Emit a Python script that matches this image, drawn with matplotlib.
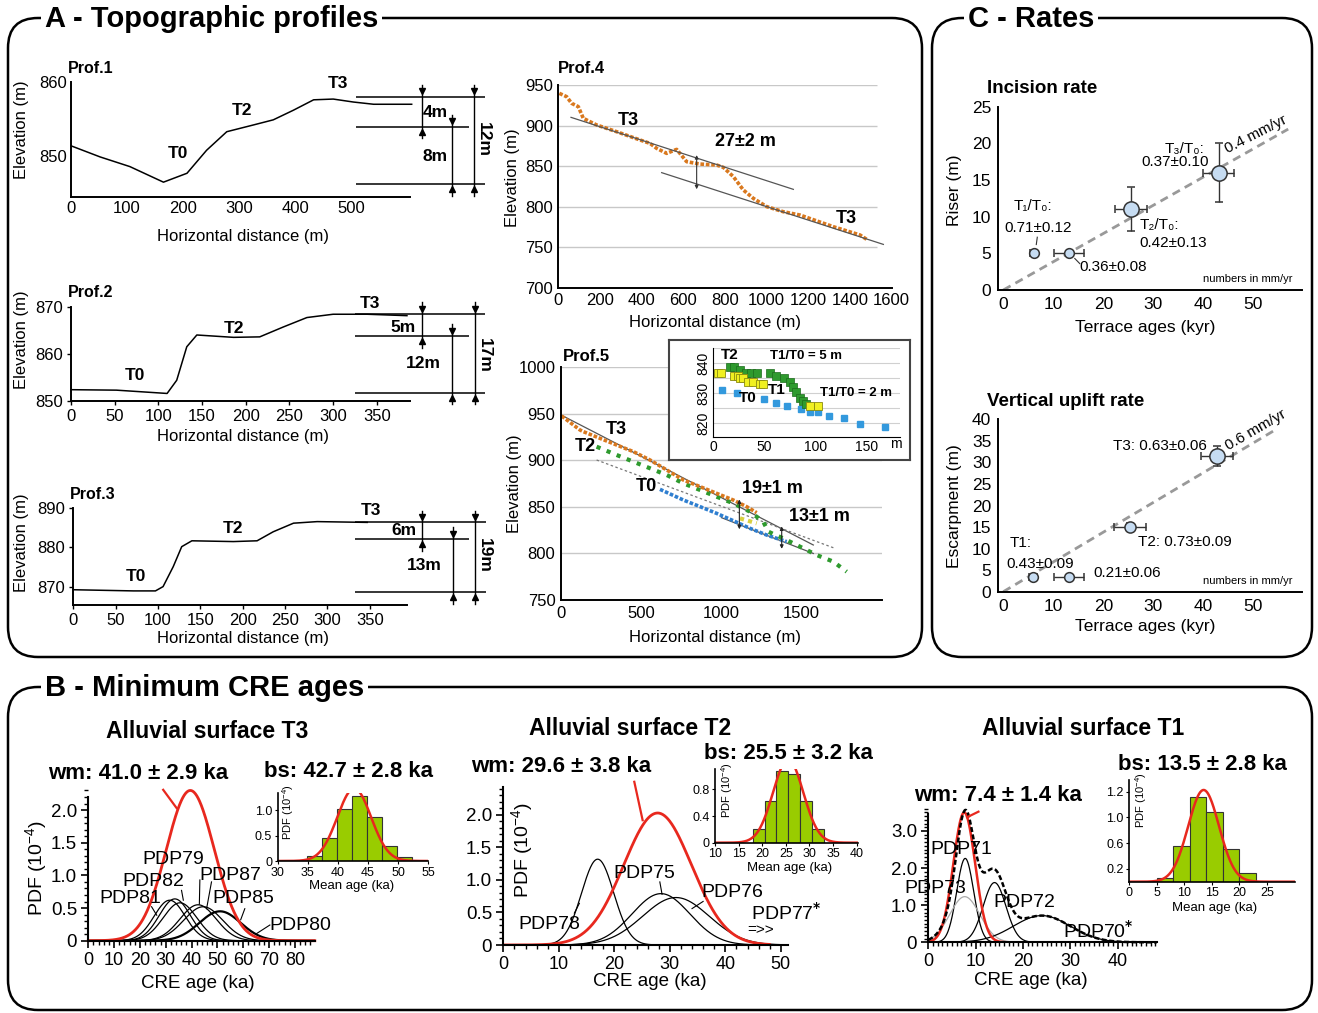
import numpy as np
import matplotlib.pyplot as plt
from matplotlib.patches import FancyBboxPatch
from matplotlib.ticker import MultipleLocator

plt.rcParams['font.family'] = ['Liberation Sans', 'DejaVu Sans']
plt.rcParams['font.size'] = 11
plt.rcParams['mathtext.default'] = 'regular'

# ---------------- data ----------------
# A - topographic profiles (distance m, elevation m)
p1_x = [0, 52, 105, 165, 207, 242, 278, 325, 361, 397, 433, 468, 504, 540, 608]
p1_y = [851.4, 849.9, 848.6, 846.5, 847.7, 850.8, 853.3, 854.2, 854.9, 856.2, 857.6, 857.7, 857.3, 857.0, 857.0]
p1_levels = [858.0, 854.0, 846.3]

p2_x = [0, 52, 110, 121, 132.5, 144, 186, 216, 243, 270, 300, 339, 384.5]
p2_y = [852.4, 852.3, 851.6, 854.4, 861.5, 864.0, 863.5, 863.6, 865.7, 867.7, 868.4, 868.4, 868.1]
p2_levels = [868.4, 863.8, 851.8]

p3_x = [0, 71, 97, 106, 118, 128, 140, 189, 217, 236, 260, 288, 347]
p3_y = [869.2, 868.9, 868.9, 870.0, 875.1, 880.2, 881.7, 881.5, 881.7, 884.0, 886.2, 886.6, 886.4]
p3_levels = [886.4, 882.2, 868.6]

p4_x = [5, 40, 64, 96, 120, 184, 280, 392, 440, 472, 520, 568, 616, 680, 760, 792, 840, 888, 936,
        1000, 1080, 1160, 1320, 1448, 1480]
p4_y = [939.7, 935.6, 927.4, 923.3, 908.9, 900.7, 892.4, 882.2, 878.0, 871.9, 865.7, 870.6, 855.4,
        852.5, 851.3, 848.4, 837.0, 820.5, 810.2, 800.0, 793.7, 789.6, 775.2, 765.0, 759.6]

p5_t3_x = [4, 118, 139, 243, 347, 451, 555, 659, 763, 867, 970, 1074, 1157, 1220]
p5_t3_y = [947.7, 932.7, 930.9, 923.7, 916.5, 909.4, 900.4, 889.7, 878.9, 871.8, 864.6, 857.4, 850.3, 843.8]
p5_t2_x = [222, 347, 451, 555, 659, 763, 867, 970, 1074, 1178, 1261, 1293, 1324, 1386, 1490, 1594, 1698, 1781]
p5_t2_y = [914.7, 905.8, 898.6, 891.5, 884.3, 875.3, 868.2, 861.0, 853.9, 844.9, 834.1, 823.4, 820.9,
           816.2, 807.3, 798.3, 791.2, 780.4]
p5_t1_x = [1116, 1220]
p5_t1_y = [837.7, 832.4]
p5_t0_x = [617, 763, 867, 970, 1074, 1178, 1282, 1407]
p5_t0_y = [868.9, 857.4, 850.3, 843.1, 835.2, 827.0, 819.8, 812.7]

# Prof.5 inset (distance m, elevation m)
in_t1_x = [4.9, 8.2, 21, 24.5, 26, 29, 34, 39, 45.6, 49, 94.6, 102.7]
in_t1_y = [836.7, 836.7, 835.8, 835.8, 835, 835, 833.9, 833.9, 833.1, 833.1, 825.8, 825.8]
in_t2_x = [16.3, 21, 26, 32.6, 37.5, 43, 55.4, 61.3, 69, 75, 78.3, 80.9, 84.8, 88, 90.6]
in_t2_y = [838.9, 838.9, 837.8, 836.9, 836.9, 836.9, 836.7, 835.8, 835, 833.9, 832.2, 830.3, 828.3, 827.4, 826.4]
in_t0_x = [9.1, 23.5, 49.6, 61.3, 72.4, 86.4, 94.6, 102.7, 114, 127.8, 143.5, 168]
in_t0_y = [831.1, 830, 828, 826.9, 825.8, 824.7, 823.9, 823.9, 822.4, 821.7, 819.7, 818.6]

# C - rates
inc_age = [6.1, 13.1, 25.5, 43.1]
inc_age_err = [0.7, 3.0, 3.2, 3.1]
inc_riser = [5, 5, 11, 16]
inc_riser_err = [0, 0, 3, 4]
inc_size = [7, 7, 11, 11]
inc_rate = 0.385

up_age = [6.0, 13.1, 25.3, 42.8]
up_age_err = [0.8, 3.0, 3.2, 3.2]
up_escarp = [3.5, 3.5, 15, 31.5]
up_escarp_err = [0, 0, 1, 2.3]
up_size = [7, 7, 8, 11]
up_rate = 0.69

# B - CRE ages: individual PDPs (mean ka, sigma ka, peak 1e-4)
t3_names = ['PDP81', 'PDP82', 'PDP79', 'PDP87', 'PDP85', 'PDP80']
t3_mean = [31.5, 33.5, 35.5, 42.5, 44.5, 51.0]
t3_sig = [6.0, 6.0, 6.5, 7.0, 7.5, 8.0]
t3_peak = [0.62, 0.64, 0.58, 0.55, 0.52, 0.45]
t3_wm = (39.5, 9.3, 2.3)
t3_bins = [34.8, 37.3, 39.8, 42.3, 44.8, 47.3, 49.8, 52.3]
t3_hist = [0.10, 0.46, 1.03, 1.28, 0.86, 0.29, 0.07]
t3_bs = (42.7, 2.8)

t2_names = ['PDP78', 'PDP75', 'PDP76']
t2_mean = [17.0, 28.4, 31.1]
t2_sig = [2.9, 5.2, 6.0]
t2_peak = [1.32, 0.79, 0.73]
t2_wm = (27.8, 6.1, 2.03)
t2_bins = [18, 20.5, 23, 25.5, 28, 30.5, 33]
t2_hist = [0.20, 0.62, 1.08, 1.03, 0.62, 0.20]
t2_bs = (25.5, 3.2)

t1_names = ['PDP71', 'PDP73', 'PDP72', 'PDP70']
t1_mean = [7.8, 7.7, 14.0, 24.0]
t1_sig = [1.8, 3.2, 2.4, 6.0]
t1_peak = [2.26, 1.23, 1.61, 0.72]
t1_wm = (7.6, 2.3, 3.5)
t1_bins = [5, 8, 11, 14, 17, 20, 23]
t1_hist = [0.05, 0.55, 1.32, 1.08, 0.51, 0.13]
t1_bs = (13.5, 2.8)

RED = '#e8281e'
ORANGE = '#d9781e'
GREEN = '#2e9a2e'
BLUE = '#2f7fd0'
BAR = '#99cc00'

W, H = 1318, 1013
fig = plt.figure(figsize=(W / 100, H / 100), dpi=100)
fig.patch.set_facecolor('white')

# background axes in pixel coordinates for frames and free text
bg = fig.add_axes([0, 0, 1, 1], zorder=-10)
bg.set_xlim(0, W)
bg.set_ylim(H, 0)
bg.axis('off')


def add_ax(x0, x1, y0, y1, xlim, ylim, z=1):
    ax = fig.add_axes([x0 / W, 1 - y1 / H, (x1 - x0) / W, (y1 - y0) / H], zorder=z)
    ax.set_xlim(*xlim)
    ax.set_ylim(*ylim)
    ax.patch.set_alpha(0)
    for s in ('top', 'right'):
        ax.spines[s].set_visible(False)
    return ax


def ptext(x, y, s, size=11, bold=False, **kw):
    kw.setdefault('ha', 'center')
    kw.setdefault('va', 'center')
    bg.text(x, y, s, fontsize=size, fontweight='bold' if bold else 'normal', **kw)


def btext(ax, x, y, s, size=12, **kw):
    kw.setdefault('ha', 'center')
    kw.setdefault('va', 'center')
    ax.text(x, y, s, fontsize=size, fontweight='bold', clip_on=False, **kw)


def gauss(x, m, s, p):
    return p * np.exp(-0.5 * ((x - m) / s) ** 2)


# panel frames
for (x0, y0, x1, y1, title, tx) in [(8, 18, 922, 657, 'A - Topographic profiles', 45),
                                     (932, 18, 1312, 657, 'C - Rates', 968),
                                     (8, 687, 1312, 1010, 'B - Minimum CRE ages', 45)]:
    bg.add_patch(FancyBboxPatch((x0, y0), x1 - x0, y1 - y0,
                                boxstyle='round,pad=0,rounding_size=30',
                                fc='none', ec='black', lw=1.8))
    bg.text(tx, y0 + 1, title, fontsize=21, fontweight='bold', ha='left', va='center',
            bbox=dict(fc='white', ec='none', pad=3))


# ---------------- A: small profiles ----------------
def dim_arrow(ax, x, ytop, ybot, ext):
    ax.plot([x, x], [ytop + ext, ybot - ext], color='black', lw=1, clip_on=False)
    ax.plot([x], [ytop + ext * 0.45], marker='v', ms=4.5, color='black', clip_on=False)
    ax.plot([x], [ybot - ext * 0.45], marker='^', ms=4.5, color='black', clip_on=False)


def small_prof(box, xlim, ylim, xs, ys, levels, line_x, arr_x, ext, xticks, yticks,
               tlabels, dlabels, name, ylab_y, xlab_y, ticklen):
    ax = add_ax(*box, xlim, ylim)
    ax.plot(xs, ys, color='black', lw=1.1, clip_on=False)
    ax.hlines(levels, line_x[0], [line_x[1], line_x[2], line_x[1]], color='black', lw=1.1, clip_on=False)
    dim_arrow(ax, arr_x[0], levels[0], levels[1], ext)
    dim_arrow(ax, arr_x[1], levels[1], levels[2], ext)
    dim_arrow(ax, arr_x[2], levels[0], levels[2], ext)
    for (x, y, s) in tlabels:
        btext(ax, x, y, s, 12.5)
    for (x, y, s, r) in dlabels:
        btext(ax, x, y, s, 12.5, rotation=r)
    ax.set_xticks(xticks)
    ax.set_yticks(yticks)
    ax.tick_params(length=ticklen, width=1, labelsize=12, pad=3)
    for s in ('left', 'bottom'):
        ax.spines[s].set_linewidth(1.4)
    ptext(box[0] - 3, box[2] - 14, name, 11.5, True, ha='left')
    ptext(22, ylab_y, 'Elevation (m)', 12, rotation=90)
    ptext(243, xlab_y, 'Horizontal distance (m)', 12)
    return ax


small_prof((71, 410, 82, 197), (0, 605), (844.5, 860), p1_x, p1_y, p1_levels,
           (509, 739, 710), (627, 680, 720), 1.6, range(0, 501, 100), [850, 860],
           [(190, 850.3, 'T0'), (306, 856.1, 'T2'), (477, 859.8, 'T3')],
           [(650, 855.9, '4m', 0), (650, 850.0, '8m', 0), (736, 852.2, '12m', -90)],
           'Prof.1', 130, 236, 0)
small_prof((71, 410, 306.7, 401), (0, 388), (850, 870), p2_x, p2_y, p2_levels,
           (325, 474, 455), (402, 436, 462), 2.5, range(0, 351, 50), [850, 860, 870],
           [(73, 855.5, 'T0'), (186, 865.4, 'T2'), (342, 870.7, 'T3')],
           [(380, 865.6, '5m', 0), (403, 858.0, '12m', 0), (473, 859.7, '17m', -90)],
           'Prof.2', 340, 436, 3)
small_prof((73.3, 407, 508.3, 605), (0, 394), (865.3, 890), p3_x, p3_y, p3_levels,
           (333, 487, 467), (412, 448, 474), 3.0, range(0, 351, 50), [870, 880, 890],
           [(74, 872.6, 'T0'), (189, 884.9, 'T2'), (351, 889.4, 'T3')],
           [(390, 884.3, '6m', 0), (414, 875.5, '13m', 0), (485, 878.0, '19m', -90)],
           'Prof.3', 543, 638, 3)

# ---------------- A: Prof.4 ----------------
ax4 = add_ax(558.3, 891.7, 85, 287.7, (0, 1600), (700, 950))
ax4.hlines([750, 800, 850, 900, 950], 0, 1530, color='#c8c8c8', lw=1, zorder=0)
ax4.plot(p4_x, p4_y, color=ORANGE, ls=(0, (1, 0.5)), lw=2.6)
ax4.plot([61, 1128], [910.1, 821.3], color='#555555', lw=0.9)
ax4.plot([496, 1560], [841.9, 753.4], color='#555555', lw=0.9)
ax4.annotate('', xy=(664, 818), xytext=(664, 867),
             arrowprops=dict(arrowstyle='<|-|>', lw=0.8, color='#333333', mutation_scale=5))
btext(ax4, 336, 906.8, 'T3', 13)
btext(ax4, 896, 880, '27±2 m', 13)
btext(ax4, 1384, 785.5, 'T3', 13)
ax4.set_xticks(range(0, 1601, 200))
ax4.set_yticks(range(700, 951, 50))
ax4.tick_params(length=0, labelsize=12, pad=4)
for s in ('left', 'bottom'):
    ax4.spines[s].set_linewidth(1.4)
ptext(558, 68, 'Prof.4', 12, True, ha='left')
ptext(513, 178, 'Elevation (m)', 12, rotation=90)
ptext(715, 322, 'Horizontal distance (m)', 12)

# ---------------- A: Prof.5 ----------------
ax5 = add_ax(561, 881.8, 367.3, 600, (0, 2000), (750, 1000))
ax5.hlines([800, 850, 900, 950, 1000], 0, 2000, color='#c8c8c8', lw=1, zorder=0)
ax5.plot([0, 1573], [948.8, 809.1], color='#555555', lw=0.9)
ax5.plot([222, 1708], [900.4, 805.5], color='#777777', lw=0.9, ls=(0, (2, 2)))
ax5.plot([1000, 1573], [838.5, 800.0], color='#555555', lw=0.9)
ax5.plot(p5_t0_x, p5_t0_y, color=BLUE, ls=(0, (1, 0.5)), lw=2.6)
ax5.plot(p5_t2_x, p5_t2_y, color=GREEN, ls=(0, (1, 1.6)), lw=3)
ax5.plot(p5_t1_x, p5_t1_y, color='#d8d040', ls=(0, (1, 1)), lw=3)
ax5.plot(p5_t3_x, p5_t3_y, color=ORANGE, ls=(0, (1, 0.5)), lw=2.6)
for (x, y0, y1) in [(1112, 823, 861), (1376, 802, 832)]:
    ax5.annotate('', xy=(x, y0), xytext=(x, y1),
                 arrowprops=dict(arrowstyle='<|-|>', lw=0.8, color='#222222', mutation_scale=5))
btext(ax5, 347, 933.4, 'T3', 13)
btext(ax5, 150, 914.7, 'T2', 13)
btext(ax5, 534, 871.8, 'T0', 13)
btext(ax5, 1320, 870, '19±1 m', 13)
btext(ax5, 1610, 840, '13±1 m', 13)
ax5.set_xticks([0, 500, 1000, 1500])
ax5.set_yticks(range(750, 1001, 50))
ax5.tick_params(length=0, labelsize=12, pad=4)
for s in ('left', 'bottom'):
    ax5.spines[s].set_linewidth(1.4)
ptext(563, 356, 'Prof.5', 12, True, ha='left')
ptext(515, 484, 'Elevation (m)', 12, rotation=90)
ptext(715, 637, 'Horizontal distance (m)', 12)

# inset of Prof.5
fr = fig.add_axes([669 / W, 1 - 460 / H, 241 / W, 120 / H], zorder=2)
fr.set_xticks([])
fr.set_yticks([])
fr.set_facecolor('white')
for s in fr.spines.values():
    s.set_color('#444444')
    s.set_linewidth(1.5)
axi = add_ax(713, 900, 348.3, 437.3, (0, 183), (815.3, 845), z=3)
axi.hlines([820, 825, 830, 835, 840, 845], 0, 183, color='#d0d0d0', lw=0.8, zorder=0)
axi.plot(in_t0_x, in_t0_y, ls='none', marker='s', ms=4.5, color='#3399dd')
axi.plot(in_t2_x, in_t2_y, ls='none', marker='s', ms=5.5, mfc='#2e9a2e', mec='#1c6b1c', mew=0.5)
axi.plot(in_t1_x, in_t1_y, ls='none', marker='s', ms=5.5, mfc='#f0f020', mec='#8a8a10', mew=0.6)
btext(axi, 16.3, 842.8, 'T2', 11)
btext(axi, 91, 842.4, 'T1/T0 = 5 m', 9.5)
btext(axi, 34, 828.3, 'T0', 11)
btext(axi, 62, 831.1, 'T1', 11)
btext(axi, 140, 830, 'T1/T0 = 2 m', 9.5)
axi.set_xticks([0, 50, 100, 150])
axi.set_yticks([820, 830, 840])
axi.set_yticklabels(['820', '830', '840'], rotation=90, va='center')
axi.tick_params(length=0, labelsize=10, pad=2)
axi.text(179, 815.3, 'm', fontsize=10, ha='center', va='top')
ptext(687, 392, 'Elevation (m)', 8.5, rotation=90)


# ---------------- C: rates ----------------
def rate_ax(box, ylim, ages, aerr, vals, verr, sizes, rate, xline, yticks):
    ax = add_ax(*box, (-1, 59.7), ylim)
    xr = np.array([0, xline])
    ax.plot(xr, rate * xr, color='#999999', lw=2, ls=(0, (3, 2)), zorder=1)
    for i in range(len(ages)):
        ax.errorbar(ages[i], vals[i], xerr=aerr[i], yerr=verr[i] if verr[i] > 0 else None,
                    fmt='o', ms=sizes[i], mfc='#c6dcf2', mec='#333333', mew=1.1,
                    ecolor='#333333', elinewidth=1, capsize=3, zorder=3)
    ax.set_xticks(range(0, 51, 10))
    ax.set_yticks(yticks)
    ax.tick_params(length=0, labelsize=12.5, pad=5)
    for s in ('left', 'bottom'):
        ax.spines[s].set_linewidth(1.4)
    ax.text(49, ylim[1] * 0.06, 'numbers in mm/yr', fontsize=8, ha='center', va='center')
    return ax


axc1 = rate_ax((998.3, 1301.7, 106.7, 290), (0, 25), inc_age, inc_age_err, inc_riser,
               inc_riser_err, inc_size, inc_rate, 57, range(0, 26, 5))
axc1.text(6, 11.4, 'T₁/T₀:', fontsize=11, ha='center', va='center')
axc1.text(7, 8.4, '0.71±0.12', fontsize=11, ha='center', va='center')
axc1.plot([6.8, 6.6], [7.2, 6.2], color='#333333', lw=0.8)
axc1.plot([14.3, 15.3], [4.3, 3.6], color='#333333', lw=0.8)
axc1.text(22, 3.2, '0.36±0.08', fontsize=11, ha='center', va='center')
axc1.text(27.2, 8.9, 'T₂/T₀:', fontsize=11, ha='left', va='center')
axc1.text(27.2, 6.4, '0.42±0.13', fontsize=11, ha='left', va='center')
axc1.text(36.3, 19.2, 'T₃/T₀:', fontsize=11, ha='center', va='center')
axc1.text(34.3, 17.5, '0.37±0.10', fontsize=11, ha='center', va='center')
axc1.text(50.5, 21.2, '0.4 mm/yr', fontsize=11, ha='center', va='center', rotation=27)
ptext(987, 88, 'Incision rate', 13.5, True, ha='left')
ptext(955, 190, 'Riser (m)', 12.5, rotation=90)
ptext(1145, 327, 'Terrace ages (kyr)', 12.5)

axc2 = rate_ax((998.3, 1301.7, 419.3, 591.7), (0, 40), up_age, up_age_err, up_escarp,
               up_escarp_err, up_size, up_rate, 54.5, range(0, 41, 5))
axc2.text(1.3, 11.2, 'T1:', fontsize=11, ha='left', va='center')
axc2.text(7.3, 6.4, '0.43±0.09', fontsize=11, ha='center', va='center')
axc2.text(24.7, 4.25, '0.21±0.06', fontsize=11, ha='center', va='center')
axc2.text(27.0, 11.6, 'T2: 0.73±0.09', fontsize=11, ha='left', va='center')
axc2.text(40.8, 33.8, 'T3: 0.63±0.06', fontsize=11, ha='right', va='center')
axc2.text(50.5, 37.6, '0.6 mm/yr', fontsize=11, ha='center', va='center', rotation=30)
ptext(987, 401, 'Vertical uplift rate', 13.5, True, ha='left')
ptext(955, 506, 'Escarpment (m)', 12.5, rotation=90)
ptext(1145, 626, 'Terrace ages (kyr)', 12.5)


# ---------------- B: CRE ages ----------------
def cre_main(box, xlim, ylim, ytop, xmaj, xmin, ymaj, ymin, ylabels=None):
    ax = add_ax(*box, xlim, ylim)
    ax.spines['left'].set_bounds(0, ytop)
    ax.set_xticks(xmaj)
    ax.set_yticks(ymaj)
    if ylabels is not None:
        ax.set_yticklabels(ylabels)
    ax.xaxis.set_minor_locator(MultipleLocator(xmin))
    ax.yaxis.set_minor_locator(MultipleLocator(ymin))
    ax.tick_params(which='major', length=5, width=1.2, labelsize=13.5, pad=3)
    ax.tick_params(axis='x', which='major', labelsize=13)
    ax.tick_params(which='minor', length=3, width=1)
    for s in ('left', 'bottom'):
        ax.spines[s].set_linewidth(1.5)
    return ax


def cre_inset(box, xlim, ylim, bins, hist, bs, xticks, yticks, ylabels=None):
    ax = add_ax(*box, xlim, ylim, z=2)
    ax.bar(bins[:-1], hist, width=np.diff(bins), align='edge', color=BAR,
           edgecolor='#333333', lw=0.8)
    xx = np.linspace(xlim[0], xlim[1], 300)
    ax.plot(xx, gauss(xx, bs[0], bs[1], 10 / (bs[1] * np.sqrt(2 * np.pi))), color=RED, lw=1.8)
    ax.set_xticks(xticks)
    ax.set_yticks(yticks)
    if ylabels is not None:
        ax.set_yticklabels(ylabels)
    ax.tick_params(length=2, labelsize=9, pad=2)
    for s in ('left', 'bottom'):
        ax.spines[s].set_linewidth(1.2)
    return ax


# T3
ax = cre_main((88.3, 314.8, 787.2, 940.7), (0, 87.7), (0, 2.35), 2.2, range(0, 81, 10), 2,
              [0, 0.5, 1.0, 1.5, 2.0], 0.1, ['0', '0.5', '1.0', '1.5', '2.0'])
xx = np.linspace(0, 87.7, 500)
for i in range(len(t3_names)):
    ax.plot(xx, gauss(xx, t3_mean[i], t3_sig[i], t3_peak[i]), color='black',
            lw=1.6 if t3_names[i] == 'PDP80' else 0.9)
ax.plot(xx, gauss(xx, *t3_wm), color=RED, lw=2, clip_on=False)
ax.plot([29, 34.2], [2.31, 2.03], color=RED, lw=1.6, clip_on=False)
for (x, y, s) in [(33, 1.24, 'PDP79'), (25.2, 0.91, 'PDP82'), (16.1, 0.64, 'PDP81'),
                  (54.8, 1.0, 'PDP87'), (60, 0.64, 'PDP85'), (82, 0.24, 'PDP80')]:
    ax.text(x, y, s, fontsize=14, ha='center', va='center')
for (x0, y0, x1, y1) in [(36.1, 0.77, 36.8, 0.62), (24.5, 0.52, 26.5, 0.39), (43.2, 0.93, 43.0, 0.56),
                         (47.7, 0.90, 45.8, 0.49), (60.6, 0.49, 59.0, 0.32), (70.3, 0.24, 65.2, 0.11)]:
    ax.plot([x0, x1], [y0, y1], color='black', lw=0.8)
ptext(36, 868, 'PDF (10$^{-4}$)', 14, rotation=90)
ptext(198, 983, 'CRE age (ka)', 13.5)
cre_inset((277.7, 428.3, 793.3, 861), (30, 55), (0, 1.33), t3_bins, t3_hist, t3_bs,
          range(30, 56, 5), [0, 0.5, 1.0], ['0', '0.5', '1.0'])
ptext(288, 812, 'PDF (10$^{-4}$)', 8, rotation=90)
ptext(352, 886, 'Mean age (ka)', 9.5)
ptext(207, 731, 'Alluvial surface T3', 16.5, True)
ptext(138, 773, 'wm: 41.0 ± 2.9 ka', 16, True)
ptext(348, 771, 'bs: 42.7 ± 2.8 ka', 16, True)

# T2
ax = cre_main((503.3, 787.5, 787, 945), (0, 51.2), (0, 2.43), 2.43, range(0, 51, 10), 2,
              [0, 0.5, 1.0, 1.5, 2.0], 0.1, ['0', '0.5', '1.0', '1.5', '2.0'])
xx = np.linspace(0, 51.2, 500)
for i in range(len(t2_names)):
    ax.plot(xx, gauss(xx, t2_mean[i], t2_sig[i], t2_peak[i]), color='black', lw=0.9)
ax.plot(xx[xx < 48], gauss(xx[xx < 48], *t2_wm), color=RED, lw=2)
ax.plot([23.6, 25.1], [2.51, 1.92], color=RED, lw=1.6, clip_on=False)
for (x, y, s) in [(8.3, 0.32, 'PDP78'), (25.4, 1.1, 'PDP75'), (41.3, 0.80, 'PDP76')]:
    ax.text(x, y, s, fontsize=14, ha='center', va='center')
ax.text(44.6, 0.49, r'PDP77$^{\mathbf{*}}$', fontsize=14, ha='left', va='center')
ax.text(46.4, 0.23, '=>>', fontsize=11, ha='center', va='center')
for (x0, y0, x1, y1) in [(12.8, 0.49, 13.7, 0.64), (28.2, 0.97, 28.6, 0.78), (36.0, 0.67, 34.0, 0.56)]:
    ax.plot([x0, x1], [y0, y1], color='black', lw=0.8)
ptext(522, 850, 'PDF (10$^{-4}$)', 14, rotation=90)
ptext(650, 981, 'CRE age (ka)', 13.5)
cre_inset((715, 858, 769.3, 842.7), (10, 40.3), (0, 1.1), t2_bins, t2_hist, t2_bs,
          range(10, 41, 5), [0, 0.4, 0.8], ['0', '0.4', '0.8'])
ptext(727, 790, 'PDF (10$^{-4}$)', 8, rotation=90)
ptext(790, 868, 'Mean age (ka)', 9.5)
ptext(630, 728, 'Alluvial surface T2', 16.5, True)
ptext(561, 766, 'wm: 29.6 ± 3.8 ka', 16, True)
ptext(788, 753, 'bs: 25.5 ± 3.2 ka', 16, True)

# T1
ax = cre_main((928.3, 1156.8, 808.7, 942.3), (0, 48.3), (0, 3.6), 3.47, range(0, 41, 10), 1,
              [0, 1.0, 2.0, 3.0], 0.1, ['0', '1.0', '2.0', '3.0'])
xx = np.linspace(0, 48.3, 500)
tot = np.zeros_like(xx)
for i in range(len(t1_names)):
    yy = gauss(xx, t1_mean[i], t1_sig[i], t1_peak[i])
    tot += yy
    ax.plot(xx, yy, color='#aaaaaa' if t1_names[i] == 'PDP73' else 'black', lw=0.9)
ax.plot(xx, gauss(xx, *t1_wm), color=RED, lw=1.8)
ax.plot(xx, tot, color='black', lw=1.8, ls=(0, (2, 1)), clip_on=False)
ax.plot([8.2, 10.6], [3.37, 3.52], color=RED, lw=1.6, clip_on=False)
for (x, y, s) in [(7.0, 2.49, 'PDP71'), (1.4, 1.46, 'PDP73'), (20.4, 1.07, 'PDP72')]:
    ax.text(x, y, s, fontsize=14, ha='center', va='center')
ax.text(28.5, 0.29, r'PDP70$^{\mathbf{*}}$', fontsize=14, ha='left', va='center')
ptext(1031, 980, 'CRE age (ka)', 13.5)
cre_inset((1129.3, 1295, 780, 881.7), (0, 30.1), (0, 1.58), t1_bins, t1_hist, t1_bs,
          range(0, 26, 5), [0.2, 0.6, 1.0, 1.4], ['0.2', '0.6', '1.0', '1.2'])
ptext(1141, 800, 'PDF (10$^{-4}$)', 8, rotation=90)
ptext(1215, 908, 'Mean age (ka)', 9.5)
ptext(1083, 728, 'Alluvial surface T1', 16.5, True)
ptext(998, 795, 'wm: 7.4 ± 1.4 ka', 16, True)
ptext(1202, 764, 'bs: 13.5 ± 2.8 ka', 16, True)

fig.savefig('out.png', dpi=100)
